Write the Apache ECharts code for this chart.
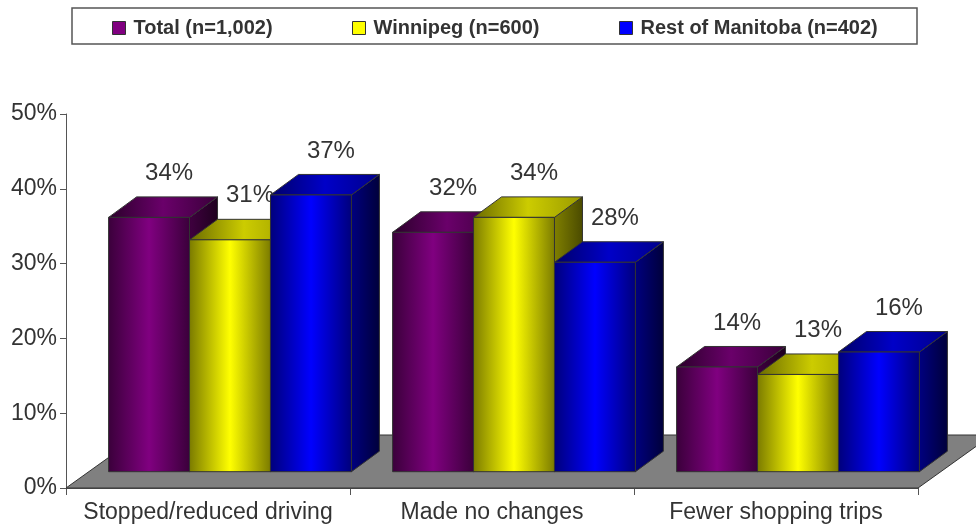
<!DOCTYPE html>
<html><head><meta charset="utf-8">
<script src="https://cdn.jsdelivr.net/npm/echarts@6/dist/echarts.min.js"></script>
<style>html,body{margin:0;padding:0;background:#fff}#c{width:976px;height:529px}</style>
</head><body><div id="c"></div>
<script>
const categories = ['Stopped/reduced driving', 'Made no changes', 'Fewer shopping trips'];
const seriesNames = ['Total (n=1,002)', 'Winnipeg (n=600)', 'Rest of Manitoba (n=402)'];
const totalValues = [34, 32, 14];
const winnipegValues = [31, 34, 13];
const restValues = [37, 28, 16];
const yTicks = [0, 10, 20, 30, 40, 50];

const seriesValues = [totalValues, winnipegValues, restValues];
const FONT = "'Liberation Sans', Arial, sans-serif";
const palettes = [
  {base:'#800080', front:['#3a003a','#800080','#3a003a'], top:['#2a002a','#6a006a','#3a003a'], side:['#400040','#1e001e']},
  {base:'#ffff00', front:['#7a7a00','#ffff00','#7a7a00'], top:['#6a6a00','#cccc00','#9a9a00'], side:['#808000','#4a4a00']},
  {base:'#0000ff', front:['#00007a','#0000ff','#00007a'], top:['#000068','#0000c8','#00008a'], side:['#000080','#00003a']}
];
function grad(cols){
  const offs = cols.length === 3 ? [0, 0.5, 1] : [0, 1];
  return {type:'linear', x:0, y:0, x2:1, y2:0, colorStops: cols.map((c,i)=>({offset:offs[i], color:c}))};
}
function makeRender(si){
  return function(params, api){
    const cat = api.value(0), val = api.value(1);
    const base = api.coord([cat, 0]);
    const topP = api.coord([cat, val]);
    const band = api.size([1, 0])[0];
    const fx = 22, fy = 16.3, dx = 28, dy = 20.5;
    const w = band * 0.285;
    const x0 = base[0] + fx - 1.5 * w + si * w;
    const x1 = x0 + w;
    const yb = base[1] - fy;
    const yt = topP[1] - fy;
    const p = palettes[si];
    return {type:'group', children:[
      {type:'polygon', shape:{points:[[x1,yt],[x1+dx,yt-dy],[x1+dx,yb-dy],[x1,yb]]}, style:{fill:grad(p.side), stroke:'#333', lineWidth:1}},
      {type:'polygon', shape:{points:[[x0,yt],[x0+dx,yt-dy],[x1+dx,yt-dy],[x1,yt]]}, style:{fill:grad(p.top), stroke:'#333', lineWidth:1}},
      {type:'rect', shape:{x:x0, y:yt, width:w, height:yb-yt}, style:{fill:grad(p.front), stroke:'#333', lineWidth:1}},
      {type:'text', x:(x0+x1)/2 + 20, y:yt - 44, style:{text: val + '%', fontSize:24, fill:'#333', align:'center', verticalAlign:'middle', fontFamily:FONT}}
    ]};
  };
}
const chart = echarts.init(document.getElementById('c'), null, {renderer:'canvas'});
const series = [{
  type:'custom', name:'floor', silent:true, data:[[0,0]],
  encode:{x:0, y:1},
  renderItem:function(params, api){
    const band = api.size([1,0])[0];
    const a = api.coord([0,0]), b = api.coord([categories.length-1, 0]);
    const xl = a[0] - band/2, xr = b[0] + band/2, y = a[1];
    return {type:'polygon', shape:{points:[[xl,y],[xr,y],[xr+74,y-53],[xl+74,y-53]]}, style:{fill:'#808080', stroke:'#333', lineWidth:1}};
  }
}];
seriesNames.forEach((n, si) => {
  series.push({
    type:'custom', name:n, renderItem:makeRender(si),
    itemStyle:{color:palettes[si].base},
    encode:{x:0, y:1},
    data: seriesValues[si].map((v, ci) => [ci, v])
  });
});
const legendLefts = [112, 352, 619];
const option = {
  animation:false,
  color: palettes.map(p => p.base),
  textStyle:{fontFamily:FONT},
  grid:{left:66, right:58, top:114, bottom:41, outerBoundsMode:'none', containLabel:false},
  graphic:[{type:'rect', shape:{x:72, y:8, width:845, height:36}, style:{fill:'#fff', stroke:'#555', lineWidth:1.5}, z:-1}],
  legend: seriesNames.map((n, i) => ({
    data:[n], left:legendLefts[i], top:18, padding:0, icon:'rect', itemWidth:13, itemHeight:13,
    itemStyle:{borderColor:'#333', borderWidth:1},
    textStyle:{fontSize:20, fontWeight:'bold', color:'#333', fontFamily:FONT, padding:[0,0,0,3]},
    selectedMode:false
  })),
  xAxis:{type:'category', data:categories,
    axisLine:{lineStyle:{color:'#555', width:1}},
    axisTick:{show:true, interval:0, length:7, lineStyle:{color:'#555'}},
    axisLabel:{interval:0, hideOverlap:false, fontSize:23, color:'#333', margin:13, fontFamily:FONT}},
  yAxis:{type:'value', min:yTicks[0], max:yTicks[yTicks.length-1], interval:yTicks[1]-yTicks[0],
    axisLine:{show:true, lineStyle:{color:'#555', width:1}},
    axisTick:{show:true, length:6, lineStyle:{color:'#555'}},
    splitLine:{show:false},
    axisLabel:{formatter:'{value}%', fontSize:23, color:'#333', margin:9, fontFamily:FONT}},
  series: series
};
chart.setOption(option);
</script></body></html>
